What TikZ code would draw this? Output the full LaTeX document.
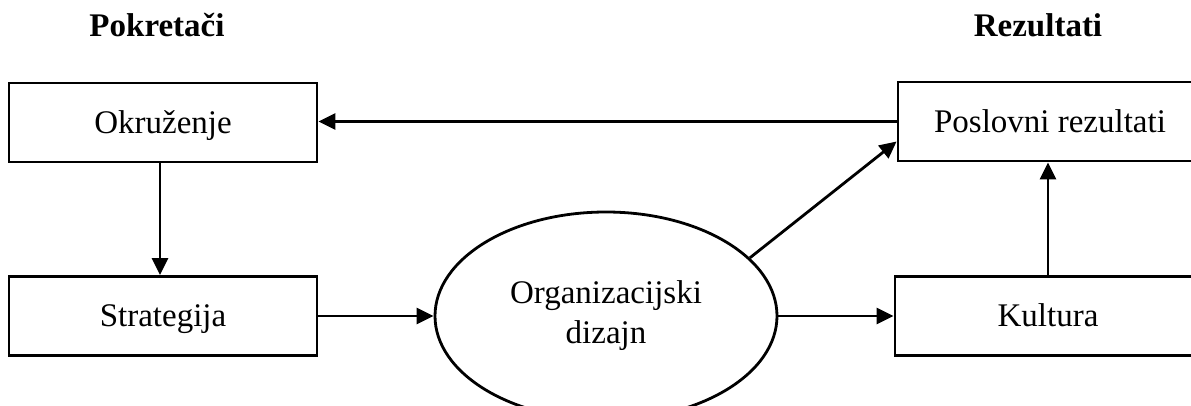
\documentclass[tikz,border=0pt]{standalone}
\usepackage{fontspec}
\setmainfont{Liberation Serif}
\usetikzlibrary{shapes.geometric,arrows.meta}
\tikzset{
  box/.style={draw, line width=2.8pt, rectangle, minimum height=79pt, inner sep=0pt, text height=21.5pt, text depth=0pt},
  oval/.style={draw, line width=2.8pt, ellipse, minimum width=342pt, minimum height=208pt, inner sep=0pt, align=center},
  arr/.style={line width=2.8pt, -{Triangle[length=17pt,width=16pt]}},
  title/.style={font=\bfseries\fontsize{33}{40}\selectfont},
  every node/.append style={font=\fontsize{33}{40}\selectfont}
}
\begin{document}
\begin{tikzpicture}[x=1pt,y=-1pt]
\useasboundingbox (0,0) rectangle (1191,406);
\clip (0,0) rectangle (1191,406);
\node[title] (tl) at (157,25) {Pokretači};
\node[title] (tr) at (1038,25) {Rezultati};
\node[box, minimum width=308pt] (ok) at (163,122.5) {Okruženje};
\node[box, minimum width=308pt] (st) at (163,316) {Strategija};
\node[box, minimum width=304pt] (po) at (1050,121.5) {Poslovni rezultati};
\node[box, minimum width=306pt] (ku) at (1048,316) {Kultura};
\node[oval] (el) at (606,316) {Organizacijski\\dizajn};
\draw[arr] ([xshift=-3pt]ok.south) -- ([xshift=-3pt]st.north);
\draw[arr] (po.west) -- (ok.east |- po.west);
\draw[arr] (st.east) -- (el.west);
\draw[arr] (el.east) -- (ku.west);
\draw[arr] (ku.north) -- (ku.north |- po.south);
\draw[arr] (el.22) -- ([yshift=-20pt]po.west);
\end{tikzpicture}
\end{document}
